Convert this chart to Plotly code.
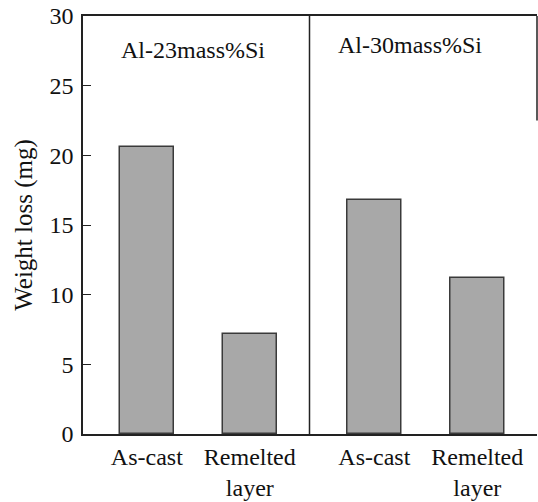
import plotly.graph_objects as go

categories = ["As-cast", "Remelted<br>layer"]
alloys = ["Al-23mass%Si", "Al-30mass%Si"]
loss_al23 = [20.6, 7.2]
loss_al30 = [16.8, 11.2]
y_ticks = [0, 5, 10, 15, 20, 25, 30]

FONT = "Liberation Serif, Times New Roman, serif"
BAR = "#a8a8a8"
EDGE = "#3a3a3a"
split = 227 / 455
FS = 24

fig = go.Figure()
fig.add_trace(go.Bar(x=categories, y=loss_al23, xaxis="x", yaxis="y", width=0.53,
                     marker=dict(color=BAR, line=dict(color=EDGE, width=1.5)),
                     showlegend=False))
fig.add_trace(go.Bar(x=categories, y=loss_al30, xaxis="x2", yaxis="y", width=0.53,
                     marker=dict(color=BAR, line=dict(color=EDGE, width=1.5)),
                     showlegend=False))

axis_common = dict(showgrid=False, zeroline=False, showline=True, linecolor="#222",
                   linewidth=1.5, ticks="", tickfont=dict(family=FONT, size=FS, color="#111"))
fig.update_layout(
    width=538, height=502,
    margin=dict(l=83, r=1, t=16, b=66),
    paper_bgcolor="white", plot_bgcolor="white",
    font=dict(family=FONT, color="#111"),
    bargap=0,
    xaxis=dict(domain=[0, split], range=[-0.62, 1.58], mirror=True, anchor="y", **axis_common),
    xaxis2=dict(domain=[split, 1], range=[-0.63, 1.58], mirror=True, anchor="y", **axis_common),
    yaxis=dict(range=[0, 30], tickvals=y_ticks, ticks="inside", ticklen=8, tickcolor="#222",
               showgrid=False, zeroline=False, showline=True, linecolor="#222", linewidth=1.5,
               tickfont=dict(family=FONT, size=FS, color="#111"), ticklabelstandoff=3,
               title=dict(text="Weight loss (mg)", font=dict(family=FONT, size=25, color="#111"),
                          standoff=10)),
    annotations=[
        dict(text=alloys[0], xref="paper", yref="paper", x=(119 - 83) / 455, y=0.919,
             xanchor="left", yanchor="middle", showarrow=False,
             font=dict(family=FONT, size=FS, color="#111")),
        dict(text=alloys[1], xref="paper", yref="paper", x=(337 - 83) / 455, y=0.931,
             xanchor="left", yanchor="middle", showarrow=False,
             font=dict(family=FONT, size=FS, color="#111")),
    ],
    shapes=[
        dict(type="line", xref="paper", yref="paper", x0=split, x1=split, y0=0, y1=1,
             line=dict(color="#222", width=1.5)),
        dict(type="line", xref="paper", yref="y", x0=1, x1=1, y0=22.5, y1=30,
             line=dict(color="#222", width=1.5)),
    ],
)
fig.write_html("out.html")
